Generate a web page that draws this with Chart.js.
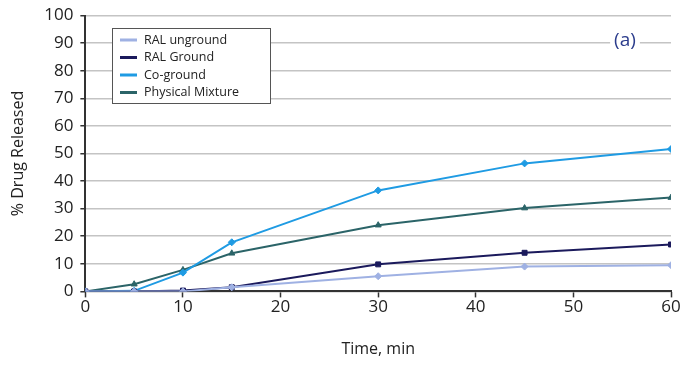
<!DOCTYPE html>
<html>
<head>
<meta charset="utf-8">
<script src="https://cdn.jsdelivr.net/npm/chart.js@4/dist/chart.umd.min.js"></script>
<style>
  html, body { margin: 0; padding: 0; background: #fff; }
  #wrap { width: 683px; height: 371px; position: relative; }
</style>
</head>
<body>
<div id="wrap"><canvas id="myChart"></canvas></div>
<script>
// time points (min)
var times = [0, 5, 10, 15, 30, 45, 60];

// % drug released
var ralUnground = [0, 0, 0, 1.5, 5.5, 9, 9.5];
var ralGround = [0, 0, 0.3, 1.5, 9.8, 14, 17];
var coGround = [0, 0.2, 6.8, 17.8, 36.6, 46.4, 51.6];
var physMix = [0, 2.6, 7.8, 13.8, 24, 30.2, 34];

var seriesNames = ["RAL unground", "RAL Ground", "Co-ground", "Physical Mixture"];
var seriesColors = ["#9fb1e3", "#1b1a5c", "#1f9be3", "#2b6468"];
var seriesMarkers = ["rectRot", "rect", "rectRot", "triangle"];
var seriesValues = [ralUnground, ralGround, coGround, physMix];

var fontFam = "'Open Sans', 'DejaVu Sans', sans-serif";

function toPoints(vals) {
    var pts = [];
    for (var i = 0; i < times.length; i++) {
        pts.push({x: times[i], y: vals[i]});
    }
    return pts;
}

var datasets = [];
for (var i = 0; i < seriesNames.length; i++) {
    datasets.push({
        label: seriesNames[i],
        data: toPoints(seriesValues[i]),
        showLine: true,
        borderColor: seriesColors[i],
        backgroundColor: seriesColors[i],
        borderWidth: 2,
        pointStyle: seriesMarkers[i],
        pointRadius: 3.5,
        pointBorderWidth: 1
    });
}

// legend box drawn inside the plot + the "(a)" label
var boxLegend = {
    id: 'boxLegend',
    afterDraw: function (chart) {
        var c = chart.ctx;
        var x0 = 112, y0 = 28, w = 158, h = 75;
        c.save();
        c.fillStyle = '#fff';
        c.fillRect(x0, y0, w, h);
        c.strokeStyle = '#555';
        c.lineWidth = 1;
        c.strokeRect(x0 + 0.5, y0 + 0.5, w, h);
        c.font = "12.5px " + fontFam;
        c.textBaseline = 'middle';
        for (var i = 0; i < chart.data.datasets.length; i++) {
            var ds = chart.data.datasets[i];
            var yy = y0 + 12 + i * 17.5;
            c.strokeStyle = ds.borderColor;
            c.lineWidth = 3;
            c.beginPath();
            c.moveTo(x0 + 8, yy);
            c.lineTo(x0 + 25, yy);
            c.stroke();
            c.fillStyle = '#222';
            c.fillText(ds.label, x0 + 32, yy);
        }
        // panel label
        c.font = "19px " + fontFam;
        c.textAlign = 'center';
        var lx = 625, ly = 41;
        var tw = c.measureText('(a)').width;
        c.fillStyle = '#fff';
        c.fillRect(lx - tw / 2 - 4, ly - 12, tw + 8, 24);
        c.fillStyle = '#2b3c8c';
        c.fillText('(a)', lx, ly);
        c.restore();
    }
};

var ctx = document.getElementById("myChart").getContext("2d");
var myChart = new Chart(ctx, {
    type: 'scatter',
    data: {datasets: datasets},
    options: {
        responsive: true,
        maintainAspectRatio: false,
        animation: false,
        layout: {padding: {left: 9, right: 12, top: 4, bottom: 12}},
        plugins: {
            legend: {display: false},
            tooltip: {enabled: false}
        },
        scales: {
            x: {
                type: 'linear',
                min: 0,
                max: 60,
                ticks: {stepSize: 10, color: '#222', font: {family: fontFam, size: 17}, padding: 0},
                grid: {drawOnChartArea: false, drawTicks: true, tickLength: 6, tickColor: '#333', tickWidth: 1.5},
                border: {color: '#333', width: 2},
                title: {display: true, text: 'Time, min', color: '#222',
                    font: {family: fontFam, size: 16}, padding: {top: 22, bottom: 0}}
            },
            y: {
                min: 0,
                max: 100,
                ticks: {stepSize: 10, color: '#222', font: {family: fontFam, size: 17, lineHeight: 1}, padding: 7},
                grid: {color: '#c4c4c4', lineWidth: 1.5, drawTicks: true, tickLength: 5, tickColor: '#333'},
                border: {color: '#333', width: 2},
                title: {display: true, text: '% Drug Released', color: '#222',
                    font: {family: fontFam, size: 16}, padding: {top: 0, bottom: 9}}
            }
        }
    },
    plugins: [boxLegend]
});
</script>
</body>
</html>
